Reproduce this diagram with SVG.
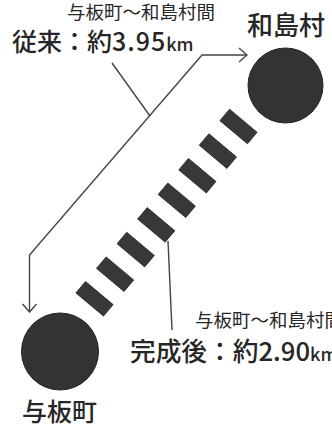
<svg xmlns="http://www.w3.org/2000/svg" width="332" height="431" viewBox="0 0 332 431">
<style>
.t{font-family:"Noto Sans CJK JP","Noto Sans",sans-serif;fill:#262626}
.big{font-size:25px;font-weight:500}
.small{font-size:18.5px}
.km{font-size:18px}
.ln{fill:none;stroke:#444;stroke-width:1.4}
.stn{fill:#333;stroke:#222;stroke-width:1}
.dash{fill:#383838;stroke:#2a2a2a;stroke-width:0.8}
</style>
<defs>
<marker id="open" viewBox="0 0 10 16" refX="9" refY="8" markerWidth="10" markerHeight="16" markerUnits="userSpaceOnUse" orient="auto-start-reverse">
<path d="M1,1 L9,8 L1,15" fill="none" stroke="#444" stroke-width="1.4"/>
</marker>
</defs>
<rect width="332" height="431" fill="#fff"/>
<g id="connectors">
<path class="ln" d="M29.5,312 L29.5,255 L202,55 L247,55" marker-start="url(#open)" marker-end="url(#open)"/>
<path class="ln" d="M112,63 L150,116"/>
<path class="ln" d="M168,241 L172,330"/>
</g>
<g id="new-route">
<rect class="dash" x="-18" y="-7.5" width="36" height="15" transform="translate(238.5,126.5) rotate(40)"/>
<rect class="dash" x="-18" y="-7.5" width="36" height="15" transform="translate(217.9,151.1) rotate(40)"/>
<rect class="dash" x="-18" y="-7.5" width="36" height="15" transform="translate(197.4,175.7) rotate(40)"/>
<rect class="dash" x="-18" y="-7.5" width="36" height="15" transform="translate(176.8,200.3) rotate(40)"/>
<rect class="dash" x="-18" y="-7.5" width="36" height="15" transform="translate(156.2,224.9) rotate(40)"/>
<rect class="dash" x="-18" y="-7.5" width="36" height="15" transform="translate(135.7,249.6) rotate(40)"/>
<rect class="dash" x="-18" y="-7.5" width="36" height="15" transform="translate(115.1,274.2) rotate(40)"/>
<rect class="dash" x="-18" y="-7.5" width="36" height="15" transform="translate(94.5,298.8) rotate(40)"/>
</g>
<g id="node-wajima">
<circle class="stn" cx="285.5" cy="85.5" r="37.5"/>
<text class="t" x="247" y="35" font-size="26" font-weight="500">和島村</text>
</g>
<g id="node-yoita">
<circle class="stn" cx="60" cy="351.5" r="38.5"/>
<text class="t big" x="22" y="421">与板町</text>
</g>
<g id="label-old">
<text class="t small" x="67" y="19" textLength="148" lengthAdjust="spacingAndGlyphs">与板町～和島村間</text>
<text class="t big" x="12" y="51">従来：約<tspan letter-spacing="1">3.95</tspan><tspan class="km">km</tspan></text>
</g>
<g id="label-new">
<text class="t small" x="195" y="327">与板町～和島村間</text>
<text class="t" x="130" y="361" font-size="25.7" font-weight="500">完成後：約2.90<tspan class="km">km</tspan></text>
</g>
</svg>
